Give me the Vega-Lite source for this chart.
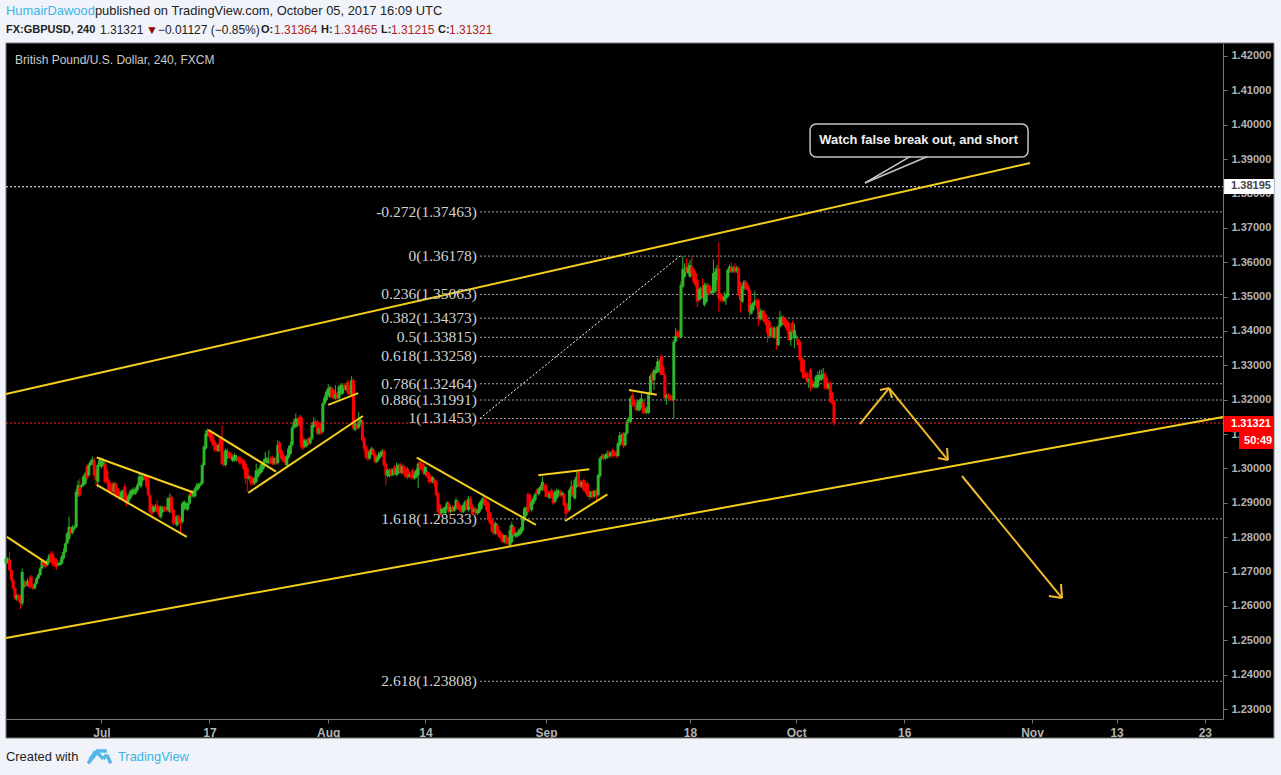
{"$schema":"https://vega.github.io/schema/vega-lite/v6.json","width":1217,"height":676,"autosize":{"type":"none"},"padding":{"left":6,"top":43,"right":58,"bottom":56},"background":"#000000","config":{"view":{"stroke":null}},
"datasets":{"candles":[
{"x":0,"o":1.2725,"h":1.2743,"l":1.2722,"c":1.2738},{"x":1,"o":1.2725,"h":1.2742,"l":1.2722,"c":1.2737},{"x":2,"o":1.2735,"h":1.2757,"l":1.2700,"c":1.2704},{"x":3,"o":1.2704,"h":1.2708,"l":1.2670,"c":1.2675},{"x":4,"o":1.2675,"h":1.2680,"l":1.2646,"c":1.2651},{"x":5,"o":1.2651,"h":1.2655,"l":1.2618,"c":1.2622},{"x":6,"o":1.2619,"h":1.2636,"l":1.2615,"c":1.2631},{"x":7,"o":1.2631,"h":1.2635,"l":1.2612,"c":1.2617},{"x":8,"o":1.2626,"h":1.2632,"l":1.2590,"c":1.2607},{"x":9,"o":1.2607,"h":1.2709,"l":1.2600,"c":1.2699},
{"x":10,"o":1.2656,"h":1.2675,"l":1.2650,"c":1.2670},{"x":11,"o":1.2670,"h":1.2674,"l":1.2655,"c":1.2660},{"x":12,"o":1.2660,"h":1.2680,"l":1.2656,"c":1.2673},{"x":13,"o":1.2673,"h":1.2686,"l":1.2650,"c":1.2655},{"x":14,"o":1.2685,"h":1.2690,"l":1.2650,"c":1.2655},{"x":15,"o":1.2655,"h":1.2660,"l":1.2646,"c":1.2651},{"x":16,"o":1.2651,"h":1.2668,"l":1.2648,"c":1.2665},{"x":17,"o":1.2665,"h":1.2684,"l":1.2662,"c":1.2680},{"x":18,"o":1.2680,"h":1.2695,"l":1.2677,"c":1.2690},{"x":19,"o":1.2690,"h":1.2714,"l":1.2687,"c":1.2709},
{"x":20,"o":1.2709,"h":1.2735,"l":1.2706,"c":1.2731},{"x":21,"o":1.2731,"h":1.2735,"l":1.2714,"c":1.2719},{"x":22,"o":1.2725,"h":1.2730,"l":1.2709,"c":1.2714},{"x":23,"o":1.2719,"h":1.2738,"l":1.2716,"c":1.2733},{"x":24,"o":1.2728,"h":1.2752,"l":1.2725,"c":1.2747},{"x":25,"o":1.2752,"h":1.2760,"l":1.2723,"c":1.2728},{"x":26,"o":1.2752,"h":1.2758,"l":1.2714,"c":1.2723},{"x":27,"o":1.2738,"h":1.2743,"l":1.2713,"c":1.2719},{"x":28,"o":1.2733,"h":1.2738,"l":1.2705,"c":1.2714},{"x":29,"o":1.2719,"h":1.2729,"l":1.2715,"c":1.2723},
{"x":30,"o":1.2719,"h":1.2733,"l":1.2716,"c":1.2725},{"x":31,"o":1.2723,"h":1.2748,"l":1.2720,"c":1.2743},{"x":32,"o":1.2738,"h":1.2767,"l":1.2735,"c":1.2757},{"x":33,"o":1.2757,"h":1.2785,"l":1.2754,"c":1.2782},{"x":34,"o":1.2782,"h":1.2815,"l":1.2779,"c":1.2811},{"x":35,"o":1.2796,"h":1.2860,"l":1.2790,"c":1.2830},{"x":36,"o":1.2825,"h":1.2831,"l":1.2805,"c":1.2811},{"x":37,"o":1.2813,"h":1.2835,"l":1.2808,"c":1.2830},{"x":38,"o":1.2825,"h":1.2836,"l":1.2820,"c":1.2830},{"x":39,"o":1.2830,"h":1.2940,"l":1.2826,"c":1.2932},
{"x":40,"o":1.2922,"h":1.2965,"l":1.2918,"c":1.2951},{"x":41,"o":1.2946,"h":1.2971,"l":1.2917,"c":1.2922},{"x":42,"o":1.2946,"h":1.2956,"l":1.2942,"c":1.2951},{"x":43,"o":1.2951,"h":1.2980,"l":1.2948,"c":1.2976},{"x":44,"o":1.2956,"h":1.2990,"l":1.2952,"c":1.2985},{"x":45,"o":1.3005,"h":1.3012,"l":1.2966,"c":1.2971},{"x":46,"o":1.2980,"h":1.3015,"l":1.2976,"c":1.3010},{"x":47,"o":1.3010,"h":1.3025,"l":1.3006,"c":1.3019},{"x":48,"o":1.3014,"h":1.3034,"l":1.3010,"c":1.3026},{"x":49,"o":1.3022,"h":1.3030,"l":1.2975,"c":1.2980},
{"x":50,"o":1.2995,"h":1.3000,"l":1.2950,"c":1.2966},{"x":51,"o":1.2961,"h":1.3015,"l":1.2945,"c":1.3010},{"x":52,"o":1.3010,"h":1.3032,"l":1.3006,"c":1.3024},{"x":53,"o":1.3005,"h":1.3032,"l":1.3000,"c":1.3022},{"x":54,"o":1.3010,"h":1.3030,"l":1.3006,"c":1.3019},{"x":55,"o":1.3014,"h":1.3020,"l":1.2955,"c":1.2961},{"x":56,"o":1.2995,"h":1.3000,"l":1.2956,"c":1.2961},{"x":57,"o":1.2966,"h":1.2970,"l":1.2930,"c":1.2937},{"x":58,"o":1.2956,"h":1.2960,"l":1.2925,"c":1.2932},{"x":59,"o":1.2951,"h":1.2960,"l":1.2930,"c":1.2935},
{"x":60,"o":1.2932,"h":1.2960,"l":1.2928,"c":1.2956},{"x":61,"o":1.2956,"h":1.2961,"l":1.2915,"c":1.2922},{"x":62,"o":1.2942,"h":1.2948,"l":1.2922,"c":1.2927},{"x":63,"o":1.2932,"h":1.2937,"l":1.2908,"c":1.2913},{"x":64,"o":1.2913,"h":1.2937,"l":1.2908,"c":1.2932},{"x":65,"o":1.2913,"h":1.2940,"l":1.2908,"c":1.2935},{"x":66,"o":1.2947,"h":1.2955,"l":1.2908,"c":1.2913},{"x":67,"o":1.2922,"h":1.2928,"l":1.2890,"c":1.2898},{"x":68,"o":1.2903,"h":1.2925,"l":1.2898,"c":1.2919},{"x":69,"o":1.2913,"h":1.2938,"l":1.2909,"c":1.2932},
{"x":70,"o":1.2922,"h":1.2942,"l":1.2918,"c":1.2937},{"x":71,"o":1.2927,"h":1.2945,"l":1.2923,"c":1.2939},{"x":72,"o":1.2927,"h":1.2945,"l":1.2923,"c":1.2939},{"x":73,"o":1.2937,"h":1.2958,"l":1.2933,"c":1.2951},{"x":74,"o":1.2951,"h":1.2985,"l":1.2948,"c":1.2976},{"x":75,"o":1.2948,"h":1.2985,"l":1.2943,"c":1.2978},{"x":76,"o":1.2966,"h":1.2982,"l":1.2962,"c":1.2976},{"x":77,"o":1.2978,"h":1.2982,"l":1.2967,"c":1.2971},{"x":78,"o":1.2976,"h":1.2980,"l":1.2944,"c":1.2948},{"x":79,"o":1.2971,"h":1.2976,"l":1.2918,"c":1.2922},
{"x":80,"o":1.2922,"h":1.2927,"l":1.2868,"c":1.2874},{"x":81,"o":1.2893,"h":1.2898,"l":1.2858,"c":1.2869},{"x":82,"o":1.2874,"h":1.2893,"l":1.2870,"c":1.2888},{"x":83,"o":1.2879,"h":1.2896,"l":1.2875,"c":1.2890},{"x":84,"o":1.2893,"h":1.2908,"l":1.2870,"c":1.2874},{"x":85,"o":1.2888,"h":1.2893,"l":1.2858,"c":1.2864},{"x":86,"o":1.2859,"h":1.2893,"l":1.2853,"c":1.2888},{"x":87,"o":1.2874,"h":1.2890,"l":1.2870,"c":1.2883},{"x":88,"o":1.2888,"h":1.2892,"l":1.2874,"c":1.2879},{"x":89,"o":1.2886,"h":1.2890,"l":1.2874,"c":1.2879},
{"x":90,"o":1.2879,"h":1.2917,"l":1.2875,"c":1.2913},{"x":91,"o":1.2874,"h":1.2927,"l":1.2870,"c":1.2913},{"x":92,"o":1.2917,"h":1.2922,"l":1.2870,"c":1.2874},{"x":93,"o":1.2879,"h":1.2884,"l":1.2835,"c":1.2840},{"x":94,"o":1.2859,"h":1.2863,"l":1.2835,"c":1.2840},{"x":95,"o":1.2835,"h":1.2865,"l":1.2830,"c":1.2861},{"x":96,"o":1.2861,"h":1.2866,"l":1.2835,"c":1.2845},{"x":97,"o":1.2850,"h":1.2855,"l":1.2811,"c":1.2840},{"x":98,"o":1.2845,"h":1.2903,"l":1.2840,"c":1.2898},{"x":99,"o":1.2883,"h":1.2908,"l":1.2878,"c":1.2903},
{"x":100,"o":1.2883,"h":1.2902,"l":1.2878,"c":1.2898},{"x":101,"o":1.2881,"h":1.2902,"l":1.2876,"c":1.2898},{"x":102,"o":1.2898,"h":1.2927,"l":1.2894,"c":1.2922},{"x":103,"o":1.2932,"h":1.2938,"l":1.2915,"c":1.2919},{"x":104,"o":1.2919,"h":1.2937,"l":1.2915,"c":1.2932},{"x":105,"o":1.2919,"h":1.2946,"l":1.2915,"c":1.2942},{"x":106,"o":1.2937,"h":1.2958,"l":1.2933,"c":1.2951},{"x":107,"o":1.2942,"h":1.2958,"l":1.2938,"c":1.2954},{"x":108,"o":1.2951,"h":1.2962,"l":1.2948,"c":1.2956},{"x":109,"o":1.2956,"h":1.3015,"l":1.2952,"c":1.3010},
{"x":110,"o":1.3010,"h":1.3068,"l":1.3006,"c":1.3063},{"x":111,"o":1.3058,"h":1.3112,"l":1.3054,"c":1.3102},{"x":112,"o":1.3097,"h":1.3116,"l":1.3093,"c":1.3111},{"x":113,"o":1.3109,"h":1.3114,"l":1.3086,"c":1.3092},{"x":114,"o":1.3102,"h":1.3106,"l":1.3075,"c":1.3078},{"x":115,"o":1.3092,"h":1.3097,"l":1.3065,"c":1.3068},{"x":116,"o":1.3078,"h":1.3082,"l":1.3048,"c":1.3053},{"x":117,"o":1.3068,"h":1.3072,"l":1.3048,"c":1.3053},{"x":118,"o":1.3051,"h":1.3072,"l":1.3048,"c":1.3068},{"x":119,"o":1.3087,"h":1.3092,"l":1.3049,"c":1.3053},
{"x":120,"o":1.3082,"h":1.3126,"l":1.3010,"c":1.3014},{"x":121,"o":1.3043,"h":1.3048,"l":1.3005,"c":1.3010},{"x":122,"o":1.3010,"h":1.3058,"l":1.3005,"c":1.3053},{"x":123,"o":1.3032,"h":1.3056,"l":1.3028,"c":1.3048},{"x":124,"o":1.3048,"h":1.3052,"l":1.3028,"c":1.3032},{"x":125,"o":1.3043,"h":1.3048,"l":1.3024,"c":1.3029},{"x":126,"o":1.3022,"h":1.3038,"l":1.3018,"c":1.3034},{"x":127,"o":1.3024,"h":1.3045,"l":1.3020,"c":1.3039},{"x":128,"o":1.3024,"h":1.3040,"l":1.3020,"c":1.3034},{"x":129,"o":1.3032,"h":1.3036,"l":1.3018,"c":1.3022},
{"x":130,"o":1.3032,"h":1.3036,"l":1.3010,"c":1.3014},{"x":131,"o":1.3026,"h":1.3030,"l":1.3015,"c":1.3019},{"x":132,"o":1.3024,"h":1.3028,"l":1.2995,"c":1.3000},{"x":133,"o":1.3014,"h":1.3018,"l":1.2956,"c":1.2971},{"x":134,"o":1.3000,"h":1.3005,"l":1.2932,"c":1.2971},{"x":135,"o":1.2971,"h":1.2982,"l":1.2966,"c":1.2976},{"x":136,"o":1.2976,"h":1.2980,"l":1.2950,"c":1.2956},{"x":137,"o":1.2971,"h":1.2975,"l":1.2950,"c":1.2956},{"x":138,"o":1.2956,"h":1.2976,"l":1.2952,"c":1.2971},{"x":139,"o":1.2961,"h":1.3014,"l":1.2957,"c":1.2995},
{"x":140,"o":1.2976,"h":1.3002,"l":1.2972,"c":1.2995},{"x":141,"o":1.2985,"h":1.3008,"l":1.2981,"c":1.3000},{"x":142,"o":1.2990,"h":1.3020,"l":1.2986,"c":1.3014},{"x":143,"o":1.3000,"h":1.3026,"l":1.2996,"c":1.3019},{"x":144,"o":1.3019,"h":1.3048,"l":1.3015,"c":1.3029},{"x":145,"o":1.3016,"h":1.3034,"l":1.3012,"c":1.3029},{"x":146,"o":1.3016,"h":1.3053,"l":1.3012,"c":1.3024},{"x":147,"o":1.3029,"h":1.3034,"l":1.3012,"c":1.3016},{"x":148,"o":1.3032,"h":1.3037,"l":1.3010,"c":1.3014},{"x":149,"o":1.3014,"h":1.3033,"l":1.3010,"c":1.3029},
{"x":150,"o":1.3029,"h":1.3034,"l":1.3010,"c":1.3014},{"x":151,"o":1.3016,"h":1.3082,"l":1.3012,"c":1.3068},{"x":152,"o":1.3075,"h":1.3080,"l":1.3048,"c":1.3043},{"x":153,"o":1.3053,"h":1.3058,"l":1.3024,"c":1.3029},{"x":154,"o":1.3039,"h":1.3044,"l":1.3016,"c":1.3022},{"x":155,"o":1.3032,"h":1.3036,"l":1.3010,"c":1.3016},{"x":156,"o":1.3010,"h":1.3040,"l":1.3005,"c":1.3036},{"x":157,"o":1.3032,"h":1.3066,"l":1.3028,"c":1.3058},{"x":158,"o":1.3043,"h":1.3078,"l":1.3039,"c":1.3068},{"x":159,"o":1.3068,"h":1.3125,"l":1.3064,"c":1.3119},
{"x":160,"o":1.3119,"h":1.3145,"l":1.3115,"c":1.3136},{"x":161,"o":1.3121,"h":1.3160,"l":1.3117,"c":1.3145},{"x":162,"o":1.3126,"h":1.3146,"l":1.3122,"c":1.3140},{"x":163,"o":1.3150,"h":1.3155,"l":1.3121,"c":1.3126},{"x":164,"o":1.3150,"h":1.3155,"l":1.3058,"c":1.3063},{"x":165,"o":1.3087,"h":1.3092,"l":1.3054,"c":1.3058},{"x":166,"o":1.3063,"h":1.3087,"l":1.3059,"c":1.3082},{"x":167,"o":1.3065,"h":1.3085,"l":1.3061,"c":1.3080},{"x":168,"o":1.3087,"h":1.3092,"l":1.3068,"c":1.3073},{"x":169,"o":1.3073,"h":1.3092,"l":1.3069,"c":1.3087},
{"x":170,"o":1.3087,"h":1.3132,"l":1.3083,"c":1.3126},{"x":171,"o":1.3121,"h":1.3150,"l":1.3117,"c":1.3136},{"x":172,"o":1.3136,"h":1.3141,"l":1.3122,"c":1.3126},{"x":173,"o":1.3136,"h":1.3141,"l":1.3097,"c":1.3102},{"x":174,"o":1.3102,"h":1.3121,"l":1.3098,"c":1.3116},{"x":175,"o":1.3131,"h":1.3136,"l":1.3098,"c":1.3102},{"x":176,"o":1.3107,"h":1.3194,"l":1.3103,"c":1.3189},{"x":177,"o":1.3189,"h":1.3212,"l":1.3185,"c":1.3206},{"x":178,"o":1.3199,"h":1.3228,"l":1.3195,"c":1.3223},{"x":179,"o":1.3213,"h":1.3245,"l":1.3209,"c":1.3233},
{"x":180,"o":1.3208,"h":1.3240,"l":1.3204,"c":1.3236},{"x":181,"o":1.3233,"h":1.3238,"l":1.3204,"c":1.3208},{"x":182,"o":1.3228,"h":1.3233,"l":1.3200,"c":1.3204},{"x":183,"o":1.3204,"h":1.3242,"l":1.3200,"c":1.3216},{"x":184,"o":1.3218,"h":1.3223,"l":1.3200,"c":1.3204},{"x":185,"o":1.3204,"h":1.3243,"l":1.3200,"c":1.3238},{"x":186,"o":1.3218,"h":1.3248,"l":1.3214,"c":1.3242},{"x":187,"o":1.3218,"h":1.3248,"l":1.3214,"c":1.3242},{"x":188,"o":1.3242,"h":1.3248,"l":1.3228,"c":1.3233},{"x":189,"o":1.3228,"h":1.3250,"l":1.3224,"c":1.3242},
{"x":190,"o":1.3252,"h":1.3258,"l":1.3214,"c":1.3218},{"x":191,"o":1.3238,"h":1.3243,"l":1.3212,"c":1.3216},{"x":192,"o":1.3216,"h":1.3268,"l":1.3212,"c":1.3257},{"x":193,"o":1.3257,"h":1.3262,"l":1.3110,"c":1.3116},{"x":194,"o":1.3113,"h":1.3135,"l":1.3108,"c":1.3131},{"x":195,"o":1.3126,"h":1.3131,"l":1.3112,"c":1.3116},{"x":196,"o":1.3119,"h":1.3165,"l":1.3114,"c":1.3136},{"x":197,"o":1.3131,"h":1.3148,"l":1.3127,"c":1.3142},{"x":198,"o":1.3136,"h":1.3141,"l":1.3078,"c":1.3082},{"x":199,"o":1.3087,"h":1.3092,"l":1.3049,"c":1.3058},
{"x":200,"o":1.3063,"h":1.3068,"l":1.3026,"c":1.3032},{"x":201,"o":1.3053,"h":1.3058,"l":1.3022,"c":1.3029},{"x":202,"o":1.3029,"h":1.3053,"l":1.3025,"c":1.3048},{"x":203,"o":1.3043,"h":1.3063,"l":1.3039,"c":1.3058},{"x":204,"o":1.3055,"h":1.3060,"l":1.3034,"c":1.3039},{"x":205,"o":1.3043,"h":1.3048,"l":1.3014,"c":1.3019},{"x":206,"o":1.3019,"h":1.3036,"l":1.3015,"c":1.3032},{"x":207,"o":1.3026,"h":1.3048,"l":1.3022,"c":1.3039},{"x":208,"o":1.3034,"h":1.3050,"l":1.3030,"c":1.3045},{"x":209,"o":1.3039,"h":1.3056,"l":1.3035,"c":1.3051},
{"x":210,"o":1.3051,"h":1.3056,"l":1.3004,"c":1.3010},{"x":211,"o":1.3014,"h":1.3020,"l":1.2951,"c":1.2981},{"x":212,"o":1.2978,"h":1.3000,"l":1.2974,"c":1.2995},{"x":213,"o":1.2978,"h":1.3000,"l":1.2974,"c":1.2995},{"x":214,"o":1.2997,"h":1.3002,"l":1.2976,"c":1.2981},{"x":215,"o":1.2981,"h":1.3002,"l":1.2977,"c":1.2997},{"x":216,"o":1.3005,"h":1.3010,"l":1.2981,"c":1.2985},{"x":217,"o":1.2981,"h":1.3018,"l":1.2977,"c":1.3000},{"x":218,"o":1.2987,"h":1.3014,"l":1.2983,"c":1.3010},{"x":219,"o":1.3012,"h":1.3017,"l":1.2985,"c":1.2990},
{"x":220,"o":1.2987,"h":1.3012,"l":1.2983,"c":1.3007},{"x":221,"o":1.3007,"h":1.3012,"l":1.2980,"c":1.2985},{"x":222,"o":1.2995,"h":1.3000,"l":1.2971,"c":1.2976},{"x":223,"o":1.3000,"h":1.3005,"l":1.2968,"c":1.2974},{"x":224,"o":1.2976,"h":1.2990,"l":1.2972,"c":1.2983},{"x":225,"o":1.2985,"h":1.2990,"l":1.2968,"c":1.2974},{"x":226,"o":1.2995,"h":1.3000,"l":1.2968,"c":1.2974},{"x":227,"o":1.2971,"h":1.2990,"l":1.2967,"c":1.2983},{"x":228,"o":1.2976,"h":1.3000,"l":1.2972,"c":1.2995},{"x":229,"o":1.2981,"h":1.3019,"l":1.2942,"c":1.3014},
{"x":230,"o":1.3019,"h":1.3030,"l":1.2995,"c":1.3000},{"x":231,"o":1.3014,"h":1.3020,"l":1.2992,"c":1.2997},{"x":232,"o":1.3010,"h":1.3015,"l":1.2980,"c":1.2985},{"x":233,"o":1.2983,"h":1.3005,"l":1.2979,"c":1.3005},{"x":234,"o":1.2990,"h":1.2995,"l":1.2971,"c":1.2976},{"x":235,"o":1.2985,"h":1.2990,"l":1.2956,"c":1.2961},{"x":236,"o":1.2976,"h":1.2980,"l":1.2956,"c":1.2961},{"x":237,"o":1.2961,"h":1.2978,"l":1.2957,"c":1.2974},{"x":238,"o":1.2968,"h":1.2972,"l":1.2947,"c":1.2956},{"x":239,"o":1.2961,"h":1.2966,"l":1.2918,"c":1.2922},
{"x":240,"o":1.2927,"h":1.2932,"l":1.2869,"c":1.2874},{"x":241,"o":1.2893,"h":1.2898,"l":1.2858,"c":1.2864},{"x":242,"o":1.2869,"h":1.2886,"l":1.2865,"c":1.2883},{"x":243,"o":1.2874,"h":1.2886,"l":1.2870,"c":1.2879},{"x":244,"o":1.2869,"h":1.2892,"l":1.2865,"c":1.2888},{"x":245,"o":1.2883,"h":1.2905,"l":1.2879,"c":1.2900},{"x":246,"o":1.2898,"h":1.2903,"l":1.2869,"c":1.2874},{"x":247,"o":1.2874,"h":1.2893,"l":1.2870,"c":1.2888},{"x":248,"o":1.2888,"h":1.2893,"l":1.2874,"c":1.2879},{"x":249,"o":1.2877,"h":1.2893,"l":1.2873,"c":1.2888},
{"x":250,"o":1.2883,"h":1.2915,"l":1.2879,"c":1.2908},{"x":251,"o":1.2903,"h":1.2908,"l":1.2879,"c":1.2883},{"x":252,"o":1.2893,"h":1.2898,"l":1.2874,"c":1.2879},{"x":253,"o":1.2888,"h":1.2893,"l":1.2869,"c":1.2874},{"x":254,"o":1.2874,"h":1.2898,"l":1.2870,"c":1.2893},{"x":255,"o":1.2879,"h":1.2908,"l":1.2875,"c":1.2903},{"x":256,"o":1.2903,"h":1.2908,"l":1.2879,"c":1.2879},{"x":257,"o":1.2879,"h":1.2920,"l":1.2875,"c":1.2913},{"x":258,"o":1.2913,"h":1.2918,"l":1.2883,"c":1.2888},{"x":259,"o":1.2893,"h":1.2898,"l":1.2864,"c":1.2869},
{"x":260,"o":1.2874,"h":1.2888,"l":1.2870,"c":1.2883},{"x":261,"o":1.2883,"h":1.2888,"l":1.2864,"c":1.2869},{"x":262,"o":1.2869,"h":1.2883,"l":1.2865,"c":1.2879},{"x":263,"o":1.2874,"h":1.2903,"l":1.2870,"c":1.2898},{"x":264,"o":1.2883,"h":1.2910,"l":1.2879,"c":1.2906},{"x":265,"o":1.2898,"h":1.2918,"l":1.2894,"c":1.2913},{"x":266,"o":1.2913,"h":1.2918,"l":1.2889,"c":1.2893},{"x":267,"o":1.2903,"h":1.2908,"l":1.2874,"c":1.2879},{"x":268,"o":1.2898,"h":1.2903,"l":1.2845,"c":1.2850},{"x":269,"o":1.2869,"h":1.2874,"l":1.2835,"c":1.2840},
{"x":270,"o":1.2850,"h":1.2855,"l":1.2811,"c":1.2816},{"x":271,"o":1.2840,"h":1.2845,"l":1.2806,"c":1.2811},{"x":272,"o":1.2811,"h":1.2845,"l":1.2807,"c":1.2840},{"x":273,"o":1.2835,"h":1.2840,"l":1.2806,"c":1.2811},{"x":274,"o":1.2820,"h":1.2825,"l":1.2797,"c":1.2801},{"x":275,"o":1.2811,"h":1.2816,"l":1.2787,"c":1.2796},{"x":276,"o":1.2806,"h":1.2811,"l":1.2782,"c":1.2786},{"x":277,"o":1.2786,"h":1.2806,"l":1.2782,"c":1.2806},{"x":278,"o":1.2801,"h":1.2806,"l":1.2778,"c":1.2782},{"x":279,"o":1.2796,"h":1.2801,"l":1.2772,"c":1.2782},
{"x":280,"o":1.2777,"h":1.2835,"l":1.2773,"c":1.2820},{"x":281,"o":1.2786,"h":1.2845,"l":1.2782,"c":1.2835},{"x":282,"o":1.2830,"h":1.2835,"l":1.2801,"c":1.2806},{"x":283,"o":1.2803,"h":1.2815,"l":1.2799,"c":1.2811},{"x":284,"o":1.2803,"h":1.2818,"l":1.2799,"c":1.2813},{"x":285,"o":1.2806,"h":1.2825,"l":1.2802,"c":1.2820},{"x":286,"o":1.2811,"h":1.2830,"l":1.2807,"c":1.2825},{"x":287,"o":1.2820,"h":1.2860,"l":1.2816,"c":1.2854},{"x":288,"o":1.2850,"h":1.2888,"l":1.2846,"c":1.2883},{"x":289,"o":1.2864,"h":1.2890,"l":1.2860,"c":1.2886},
{"x":290,"o":1.2925,"h":1.2930,"l":1.2869,"c":1.2874},{"x":291,"o":1.2922,"h":1.2927,"l":1.2883,"c":1.2888},{"x":292,"o":1.2879,"h":1.2908,"l":1.2875,"c":1.2903},{"x":293,"o":1.2898,"h":1.2918,"l":1.2894,"c":1.2913},{"x":294,"o":1.2908,"h":1.2930,"l":1.2904,"c":1.2925},{"x":295,"o":1.2937,"h":1.2942,"l":1.2922,"c":1.2927},{"x":296,"o":1.2925,"h":1.2945,"l":1.2921,"c":1.2942},{"x":297,"o":1.2937,"h":1.2952,"l":1.2933,"c":1.2947},{"x":298,"o":1.2939,"h":1.2976,"l":1.2935,"c":1.2961},{"x":299,"o":1.2951,"h":1.2956,"l":1.2932,"c":1.2937},
{"x":300,"o":1.2951,"h":1.2956,"l":1.2918,"c":1.2917},{"x":301,"o":1.2932,"h":1.2937,"l":1.2913,"c":1.2917},{"x":302,"o":1.2915,"h":1.2932,"l":1.2911,"c":1.2925},{"x":303,"o":1.2937,"h":1.2942,"l":1.2913,"c":1.2917},{"x":304,"o":1.2925,"h":1.2930,"l":1.2894,"c":1.2898},{"x":305,"o":1.2903,"h":1.2937,"l":1.2899,"c":1.2932},{"x":306,"o":1.2913,"h":1.2942,"l":1.2909,"c":1.2935},{"x":307,"o":1.2922,"h":1.2940,"l":1.2918,"c":1.2935},{"x":308,"o":1.2932,"h":1.2937,"l":1.2917,"c":1.2922},{"x":309,"o":1.2922,"h":1.2934,"l":1.2918,"c":1.2929},
{"x":310,"o":1.2925,"h":1.2930,"l":1.2889,"c":1.2893},{"x":311,"o":1.2898,"h":1.2903,"l":1.2854,"c":1.2869},{"x":312,"o":1.2893,"h":1.2898,"l":1.2869,"c":1.2874},{"x":313,"o":1.2879,"h":1.2942,"l":1.2875,"c":1.2937},{"x":314,"o":1.2922,"h":1.2965,"l":1.2918,"c":1.2947},{"x":315,"o":1.2947,"h":1.2952,"l":1.2917,"c":1.2922},{"x":316,"o":1.2913,"h":1.2971,"l":1.2909,"c":1.2966},{"x":317,"o":1.2947,"h":1.2990,"l":1.2943,"c":1.2976},{"x":318,"o":1.2990,"h":1.2990,"l":1.2947,"c":1.2951},{"x":319,"o":1.2961,"h":1.2966,"l":1.2942,"c":1.2947},
{"x":320,"o":1.2947,"h":1.2966,"l":1.2943,"c":1.2961},{"x":321,"o":1.2966,"h":1.2971,"l":1.2932,"c":1.2937},{"x":322,"o":1.2956,"h":1.2961,"l":1.2927,"c":1.2932},{"x":323,"o":1.2956,"h":1.2961,"l":1.2917,"c":1.2922},{"x":324,"o":1.2932,"h":1.2937,"l":1.2909,"c":1.2917},{"x":325,"o":1.2917,"h":1.2935,"l":1.2913,"c":1.2932},{"x":326,"o":1.2932,"h":1.2937,"l":1.2913,"c":1.2919},{"x":327,"o":1.2919,"h":1.2937,"l":1.2915,"c":1.2935},{"x":328,"o":1.2935,"h":1.2940,"l":1.2904,"c":1.2922},{"x":329,"o":1.2922,"h":1.2985,"l":1.2918,"c":1.2981},
{"x":330,"o":1.2978,"h":1.3034,"l":1.2974,"c":1.3029},{"x":331,"o":1.3029,"h":1.3042,"l":1.3025,"c":1.3036},{"x":332,"o":1.3039,"h":1.3044,"l":1.3024,"c":1.3029},{"x":333,"o":1.3029,"h":1.3044,"l":1.3025,"c":1.3039},{"x":334,"o":1.3032,"h":1.3052,"l":1.3028,"c":1.3043},{"x":335,"o":1.3043,"h":1.3053,"l":1.3030,"c":1.3036},{"x":336,"o":1.3036,"h":1.3048,"l":1.3032,"c":1.3048},{"x":337,"o":1.3053,"h":1.3058,"l":1.3032,"c":1.3036},{"x":338,"o":1.3048,"h":1.3053,"l":1.3034,"c":1.3039},{"x":339,"o":1.3045,"h":1.3050,"l":1.3030,"c":1.3036},
{"x":340,"o":1.3036,"h":1.3078,"l":1.3032,"c":1.3073},{"x":341,"o":1.3068,"h":1.3106,"l":1.3064,"c":1.3097},{"x":342,"o":1.3077,"h":1.3102,"l":1.3073,"c":1.3097},{"x":343,"o":1.3102,"h":1.3107,"l":1.3060,"c":1.3065},{"x":344,"o":1.3068,"h":1.3106,"l":1.3064,"c":1.3102},{"x":345,"o":1.3102,"h":1.3142,"l":1.3098,"c":1.3136},{"x":346,"o":1.3136,"h":1.3150,"l":1.3132,"c":1.3145},{"x":347,"o":1.3136,"h":1.3210,"l":1.3132,"c":1.3204},{"x":348,"o":1.3214,"h":1.3220,"l":1.3180,"c":1.3185},{"x":349,"o":1.3199,"h":1.3204,"l":1.3180,"c":1.3185},
{"x":350,"o":1.3185,"h":1.3190,"l":1.3166,"c":1.3170},{"x":351,"o":1.3170,"h":1.3199,"l":1.3166,"c":1.3194},{"x":352,"o":1.3170,"h":1.3203,"l":1.3166,"c":1.3199},{"x":353,"o":1.3180,"h":1.3219,"l":1.3176,"c":1.3204},{"x":354,"o":1.3194,"h":1.3199,"l":1.3158,"c":1.3162},{"x":355,"o":1.3175,"h":1.3180,"l":1.3158,"c":1.3162},{"x":356,"o":1.3162,"h":1.3180,"l":1.3158,"c":1.3175},{"x":357,"o":1.3162,"h":1.3223,"l":1.3158,"c":1.3219},{"x":358,"o":1.3219,"h":1.3274,"l":1.3215,"c":1.3269},{"x":359,"o":1.3277,"h":1.3282,"l":1.3250,"c":1.3257},
{"x":360,"o":1.3257,"h":1.3290,"l":1.3228,"c":1.3285},{"x":361,"o":1.3277,"h":1.3297,"l":1.3273,"c":1.3287},{"x":362,"o":1.3282,"h":1.3321,"l":1.3278,"c":1.3311},{"x":363,"o":1.3282,"h":1.3317,"l":1.3278,"c":1.3311},{"x":364,"o":1.3327,"h":1.3333,"l":1.3272,"c":1.3272},{"x":365,"o":1.3296,"h":1.3301,"l":1.3272,"c":1.3272},{"x":366,"o":1.3272,"h":1.3277,"l":1.3204,"c":1.3204},{"x":367,"o":1.3204,"h":1.3218,"l":1.3185,"c":1.3214},{"x":368,"o":1.3214,"h":1.3219,"l":1.3200,"c":1.3204},{"x":369,"o":1.3211,"h":1.3216,"l":1.3197,"c":1.3201},
{"x":370,"o":1.3209,"h":1.3214,"l":1.3194,"c":1.3199},{"x":371,"o":1.3199,"h":1.3375,"l":1.3146,"c":1.3369},{"x":372,"o":1.3369,"h":1.3408,"l":1.3365,"c":1.3386},{"x":373,"o":1.3398,"h":1.3403,"l":1.3380,"c":1.3384},{"x":374,"o":1.3398,"h":1.3403,"l":1.3378,"c":1.3382},{"x":375,"o":1.3382,"h":1.3545,"l":1.3378,"c":1.3534},{"x":376,"o":1.3529,"h":1.3618,"l":1.3525,"c":1.3580},{"x":377,"o":1.3558,"h":1.3597,"l":1.3554,"c":1.3582},{"x":378,"o":1.3587,"h":1.3611,"l":1.3570,"c":1.3570},{"x":379,"o":1.3568,"h":1.3598,"l":1.3564,"c":1.3585},
{"x":380,"o":1.3558,"h":1.3607,"l":1.3554,"c":1.3592},{"x":381,"o":1.3587,"h":1.3618,"l":1.3563,"c":1.3568},{"x":382,"o":1.3578,"h":1.3583,"l":1.3538,"c":1.3544},{"x":383,"o":1.3568,"h":1.3573,"l":1.3528,"c":1.3534},{"x":384,"o":1.3548,"h":1.3553,"l":1.3469,"c":1.3485},{"x":385,"o":1.3490,"h":1.3526,"l":1.3486,"c":1.3521},{"x":386,"o":1.3495,"h":1.3530,"l":1.3491,"c":1.3524},{"x":387,"o":1.3524,"h":1.3553,"l":1.3495,"c":1.3500},{"x":388,"o":1.3476,"h":1.3540,"l":1.3471,"c":1.3534},{"x":389,"o":1.3485,"h":1.3540,"l":1.3481,"c":1.3534},
{"x":390,"o":1.3534,"h":1.3539,"l":1.3505,"c":1.3510},{"x":391,"o":1.3529,"h":1.3534,"l":1.3505,"c":1.3510},{"x":392,"o":1.3510,"h":1.3520,"l":1.3506,"c":1.3515},{"x":393,"o":1.3512,"h":1.3608,"l":1.3508,"c":1.3568},{"x":394,"o":1.3515,"h":1.3583,"l":1.3511,"c":1.3573},{"x":395,"o":1.3548,"h":1.3593,"l":1.3544,"c":1.3582},{"x":396,"o":1.3582,"h":1.3658,"l":1.3456,"c":1.3495},{"x":397,"o":1.3505,"h":1.3510,"l":1.3485,"c":1.3490},{"x":398,"o":1.3500,"h":1.3505,"l":1.3483,"c":1.3488},{"x":399,"o":1.3488,"h":1.3515,"l":1.3484,"c":1.3500},
{"x":400,"o":1.3495,"h":1.3510,"l":1.3476,"c":1.3505},{"x":401,"o":1.3500,"h":1.3582,"l":1.3496,"c":1.3578},{"x":402,"o":1.3573,"h":1.3593,"l":1.3569,"c":1.3587},{"x":403,"o":1.3585,"h":1.3600,"l":1.3568,"c":1.3573},{"x":404,"o":1.3573,"h":1.3590,"l":1.3569,"c":1.3585},{"x":405,"o":1.3585,"h":1.3597,"l":1.3568,"c":1.3573},{"x":406,"o":1.3573,"h":1.3590,"l":1.3569,"c":1.3584},{"x":407,"o":1.3582,"h":1.3587,"l":1.3500,"c":1.3505},{"x":408,"o":1.3539,"h":1.3544,"l":1.3453,"c":1.3490},{"x":409,"o":1.3485,"h":1.3534,"l":1.3481,"c":1.3529},
{"x":410,"o":1.3524,"h":1.3548,"l":1.3520,"c":1.3543},{"x":411,"o":1.3543,"h":1.3548,"l":1.3519,"c":1.3524},{"x":412,"o":1.3534,"h":1.3539,"l":1.3515,"c":1.3519},{"x":413,"o":1.3521,"h":1.3526,"l":1.3434,"c":1.3456},{"x":414,"o":1.3451,"h":1.3480,"l":1.3447,"c":1.3476},{"x":415,"o":1.3461,"h":1.3485,"l":1.3457,"c":1.3481},{"x":416,"o":1.3476,"h":1.3517,"l":1.3472,"c":1.3488},{"x":417,"o":1.3490,"h":1.3495,"l":1.3466,"c":1.3476},{"x":418,"o":1.3488,"h":1.3493,"l":1.3415,"c":1.3437},{"x":419,"o":1.3434,"h":1.3466,"l":1.3430,"c":1.3456},
{"x":420,"o":1.3437,"h":1.3461,"l":1.3433,"c":1.3459},{"x":421,"o":1.3458,"h":1.3463,"l":1.3425,"c":1.3430},{"x":422,"o":1.3447,"h":1.3452,"l":1.3417,"c":1.3422},{"x":423,"o":1.3432,"h":1.3437,"l":1.3366,"c":1.3393},{"x":424,"o":1.3427,"h":1.3432,"l":1.3384,"c":1.3384},{"x":425,"o":1.3384,"h":1.3413,"l":1.3380,"c":1.3408},{"x":426,"o":1.3408,"h":1.3413,"l":1.3379,"c":1.3384},{"x":427,"o":1.3382,"h":1.3413,"l":1.3378,"c":1.3408},{"x":428,"o":1.3408,"h":1.3413,"l":1.3346,"c":1.3379},{"x":429,"o":1.3359,"h":1.3418,"l":1.3355,"c":1.3413},
{"x":430,"o":1.3413,"h":1.3458,"l":1.3409,"c":1.3440},{"x":431,"o":1.3418,"h":1.3445,"l":1.3414,"c":1.3440},{"x":432,"o":1.3440,"h":1.3445,"l":1.3417,"c":1.3422},{"x":433,"o":1.3434,"h":1.3439,"l":1.3408,"c":1.3413},{"x":434,"o":1.3427,"h":1.3432,"l":1.3393,"c":1.3403},{"x":435,"o":1.3422,"h":1.3427,"l":1.3369,"c":1.3374},{"x":436,"o":1.3374,"h":1.3403,"l":1.3357,"c":1.3398},{"x":437,"o":1.3425,"h":1.3430,"l":1.3393,"c":1.3398},{"x":438,"o":1.3379,"h":1.3420,"l":1.3350,"c":1.3403},{"x":439,"o":1.3379,"h":1.3389,"l":1.3375,"c":1.3384},
{"x":440,"o":1.3376,"h":1.3381,"l":1.3355,"c":1.3359},{"x":441,"o":1.3369,"h":1.3374,"l":1.3312,"c":1.3317},{"x":442,"o":1.3320,"h":1.3325,"l":1.3277,"c":1.3282},{"x":443,"o":1.3316,"h":1.3321,"l":1.3262,"c":1.3262},{"x":444,"o":1.3277,"h":1.3282,"l":1.3259,"c":1.3265},{"x":445,"o":1.3277,"h":1.3282,"l":1.3248,"c":1.3253},{"x":446,"o":1.3253,"h":1.3262,"l":1.3233,"c":1.3260},{"x":447,"o":1.3287,"h":1.3292,"l":1.3224,"c":1.3238},{"x":448,"o":1.3253,"h":1.3258,"l":1.3233,"c":1.3238},{"x":449,"o":1.3238,"h":1.3252,"l":1.3234,"c":1.3246},
{"x":450,"o":1.3236,"h":1.3272,"l":1.3232,"c":1.3267},{"x":451,"o":1.3238,"h":1.3282,"l":1.3234,"c":1.3272},{"x":452,"o":1.3257,"h":1.3287,"l":1.3253,"c":1.3272},{"x":453,"o":1.3259,"h":1.3287,"l":1.3255,"c":1.3272},{"x":454,"o":1.3262,"h":1.3292,"l":1.3258,"c":1.3275},{"x":455,"o":1.3275,"h":1.3280,"l":1.3229,"c":1.3233},{"x":456,"o":1.3262,"h":1.3267,"l":1.3229,"c":1.3233},{"x":457,"o":1.3233,"h":1.3250,"l":1.3229,"c":1.3246},{"x":458,"o":1.3248,"h":1.3253,"l":1.3190,"c":1.3194},{"x":459,"o":1.3219,"h":1.3224,"l":1.3185,"c":1.3190},
{"x":460,"o":1.3194,"h":1.3199,"l":1.3125,"c":1.3132}
],
"trend":[{"x":0,"x2":568.9,"y":1.32166,"y2":1.38887},{"x":0,"x2":676.1,"y":1.25067,"y2":1.31497},{"x":0.5,"x2":22.8,"y":1.2801,"y2":1.2724},{"x":50.4,"x2":104.1,"y":1.3032,"y2":1.2930},{"x":50.4,"x2":100.4,"y":1.2952,"y2":1.2801},{"x":112.4,"x2":150,"y":1.3112,"y2":1.2991},{"x":134.6,"x2":198.3,"y":1.2929,"y2":1.31526},{"x":179,"x2":195.7,"y":1.3185,"y2":1.3219},{"x":228.2,"x2":294.4,"y":1.30312,"y2":1.28355},{"x":295.7,"x2":324.1,"y":1.2980,"y2":1.29975},{"x":310.6,"x2":334.1,"y":1.28471,"y2":1.29248},{"x":346.1,"x2":361.5,"y":1.32282,"y2":1.32146}],
"arrows":[{"x":474.4,"x2":490.6,"y":1.31293,"y2":1.3234},{"x":485.6,"x2":490.6,"y":1.32282,"y2":1.3234},{"x":490.6,"x2":492.2,"y":1.3234,"y2":1.32049},{"x":490.6,"x2":523.3,"y":1.3234,"y2":1.30245},{"x":517.8,"x2":523.3,"y":1.30303,"y2":1.30245},{"x":522.8,"x2":523.3,"y":1.30594,"y2":1.30245},{"x":531.1,"x2":586.7,"y":1.2978,"y2":1.2623},{"x":579.4,"x2":586.7,"y":1.26288,"y2":1.2623},{"x":586.1,"x2":586.7,"y":1.26637,"y2":1.2623}],
"fib":[{"x":263.3,"x2":676.1,"y":1.37463,"label":"-0.272(1.37463)"},{"x":263.3,"x2":676.1,"y":1.36178,"label":"0(1.36178)"},{"x":263.3,"x2":676.1,"y":1.35063,"label":"0.236(1.35063)"},{"x":263.3,"x2":676.1,"y":1.34373,"label":"0.382(1.34373)"},{"x":263.3,"x2":676.1,"y":1.33815,"label":"0.5(1.33815)"},{"x":263.3,"x2":676.1,"y":1.33258,"label":"0.618(1.33258)"},{"x":263.3,"x2":676.1,"y":1.32464,"label":"0.786(1.32464)"},{"x":263.3,"x2":676.1,"y":1.31991,"label":"0.886(1.31991)"},{"x":263.3,"x2":676.1,"y":1.31453,"label":"1(1.31453)"},{"x":263.3,"x2":676.1,"y":1.28533,"label":"1.618(1.28533)"},{"x":263.3,"x2":676.1,"y":1.23808,"label":"2.618(1.23808)"}],
"panels":[{"x":-3.4,"x2":708.4,"y":1.4363,"y2":1.42378,"part":"page"},{"x":-3.4,"x2":708.4,"y":1.22157,"y2":1.2108,"part":"page"},{"x":-3.4,"x2":0,"y":1.4363,"y2":1.2108,"part":"page"},{"x":704.4,"x2":708.4,"y":1.4363,"y2":1.2108,"part":"page"}],
"tags":[{"x":676.7,"x2":704.4,"y":1.38421,"y2":1.37985,"part":"stop"},{"x":676.7,"x2":704.4,"y":1.31526,"y2":1.3106,"part":"last"},{"x":685,"x2":704.4,"y":1.3106,"y2":1.30566,"part":"last"}],
"chromeLarge":[{"x":0,"y":1.43309,"txt":"HumairDawood","role":"link"},{"x":49.4,"y":1.43309,"txt":"published on TradingView.com, October 05, 2017 16:09 UTC","role":"ink"},{"x":0,"y":1.21604,"txt":"Created with","role":"ink"},{"x":62.2,"y":1.21604,"txt":"TradingView","role":"link"}],
"chrome":[{"x":52.2,"y":1.42756,"txt":"1.31321","role":"ink"},{"x":77.8,"y":1.42756,"txt":"▼","role":"down"},{"x":84.4,"y":1.42756,"txt":"−0.01127 (−0.85%)","role":"ink"},{"x":148.9,"y":1.42756,"txt":"1.31364","role":"value"},{"x":182.2,"y":1.42756,"txt":"1.31465","role":"value"},{"x":213.9,"y":1.42756,"txt":"1.31215","role":"value"},{"x":246.1,"y":1.42756,"txt":"1.31321","role":"value"},{"x":5,"y":1.41884,"txt":"British Pound/U.S. Dollar, 240, FXCM","role":"pale"}],
"chromeBold":[{"x":0,"y":1.42756,"txt":"FX:GBPUSD, 240"},{"x":141.7,"y":1.42756,"txt":"O:"},{"x":175,"y":1.42756,"txt":"H:"},{"x":208.3,"y":1.42756,"txt":"L:"},{"x":240,"y":1.42756,"txt":"C:"}],
"tagText":[{"x":680.6,"y":1.38203,"txt":"1.38195","role":"onWhite"},{"x":680.6,"y":1.31293,"txt":"1.31321","role":"onRed"},{"x":687.8,"y":1.30798,"txt":"50:49","role":"onRed"}],
"tail":[{"x":502.2,"x2":477.2,"y":1.3907,"y2":1.38305},{"x":477.2,"x2":511.7,"y":1.38305,"y2":1.3907}],
"logo":[{"x":45.6,"x2":50.6,"y":1.2142,"y2":1.2174},{"x":50.6,"x2":54,"y":1.2174,"y2":1.2155},{"x":54,"x2":56,"y":1.2155,"y2":1.2167},{"x":56,"x2":58.2,"y":1.2167,"y2":1.2142},{"x":46.5,"x2":50,"y":1.2152,"y2":1.2178},{"x":50,"x2":56,"y":1.2178,"y2":1.2178}]
},
"encoding":{"x":{"field":"x","type":"quantitative","scale":{"domain":[0,676.1],"nice":false,"zero":false,"padding":0},"axis":{"title":null,"grid":false,"values":[53,113,179,233,300,380,439,499,570,617,666],"labelExpr":"{'53':'Jul','113':'17','179':'Aug','233':'14','300':'Sep','380':'18','439':'Oct','499':'16','570':'Nov','617':'13','666':'23'}[datum.value]","labelColor":"#b4b4b4","labelFont":"Liberation Sans","labelFontWeight":"bold","labelFontSize":12,"labelPadding":4,"domainColor":"#787878","tickColor":"#787878","tickSize":4}},
"y":{"field":"y","type":"quantitative","scale":{"domain":[1.2271,1.42378],"nice":false,"zero":false},"axis":{"title":null,"orient":"right","grid":false,"values":[1.23,1.24,1.25,1.26,1.27,1.28,1.29,1.3,1.31,1.32,1.33,1.34,1.35,1.36,1.37,1.38,1.39,1.4,1.41,1.42],"format":".5f","labelColor":"#b4b4b4","labelFont":"Liberation Sans","labelFontWeight":"bold","labelFontSize":11,"labelPadding":4,"domainColor":"#787878","tickColor":"#787878","tickSize":4}}},
"layer":[
{"data":{"name":"panels"},"mark":{"type":"rect","clip":false},"encoding":{"x2":{"field":"x2"},"y2":{"field":"y2"},"color":{"field":"part","type":"nominal","scale":{"domain":["page"],"range":["#f0f3fa"]},"legend":null}}},
{"data":{"values":[{"x":0,"x2":704.4,"y":1.42378,"y2":1.22157}]},"mark":{"type":"rect","fill":null,"stroke":"#787878","strokeWidth":1},"encoding":{"x2":{"field":"x2"},"y2":{"field":"y2"}}},
{"data":{"name":"fib"},"mark":{"type":"rule","color":"#a8a8a8","strokeWidth":1,"strokeDash":[2,2]},"encoding":{"x2":{"field":"x2"}}},
{"data":{"values":[{"x":0,"x2":676.1,"y":1.38195}]},"mark":{"type":"rule","color":"#ffffff","strokeWidth":1,"strokeDash":[2,2]},"encoding":{"x2":{"field":"x2"}}},
{"data":{"values":[{"x":263.3,"x2":374.4,"y":1.31453,"y2":1.36178}]},"mark":{"type":"rule","color":"#ffffff","strokeWidth":1,"strokeDash":[2,2]},"encoding":{"x2":{"field":"x2"},"y2":{"field":"y2"}}},
{"data":{"name":"candles"},"mark":{"type":"rule","strokeWidth":1},"encoding":{"y":{"field":"l","type":"quantitative","scale":{"domain":[1.2271,1.42378],"nice":false,"zero":false}},"y2":{"field":"h"},"color":{"condition":{"test":"datum.c >= datum.o","value":"#2fb52a"},"value":"#ff0000"}}},
{"data":{"name":"candles"},"mark":{"type":"bar","size":3},"encoding":{"y":{"field":"o","type":"quantitative","scale":{"domain":[1.2271,1.42378],"nice":false,"zero":false}},"y2":{"field":"c"},"color":{"condition":{"test":"datum.c >= datum.o","value":"#2fb52a"},"value":"#ff0000"}}},
{"data":{"values":[{"x":0,"x2":676.1,"y":1.31321}]},"mark":{"type":"rule","color":"#ff2020","strokeWidth":1,"strokeDash":[2,2]},"encoding":{"x2":{"field":"x2"}}},
{"data":{"name":"trend"},"mark":{"type":"rule","color":"#f5cf1d","strokeWidth":2},"encoding":{"x2":{"field":"x2"},"y2":{"field":"y2"}}},
{"data":{"name":"arrows"},"mark":{"type":"rule","color":"#eeb92a","strokeWidth":2},"encoding":{"x2":{"field":"x2"},"y2":{"field":"y2"}}},
{"data":{"name":"fib"},"mark":{"type":"text","align":"right","baseline":"middle","dx":-3,"font":"Liberation Serif","fontSize":15.5,"color":"#d2d2d2"},"encoding":{"text":{"field":"label"}}},
{"data":{"values":[{"x":446.7,"x2":567.8,"y":1.40022,"y2":1.39061}]},"mark":{"type":"rect","fill":"#000000","stroke":"#c4c4c4","strokeWidth":1.5,"cornerRadius":6},"encoding":{"x2":{"field":"x2"},"y2":{"field":"y2"}}},
{"data":{"name":"tail"},"mark":{"type":"rule","color":"#c4c4c4","strokeWidth":1.5},"encoding":{"x2":{"field":"x2"},"y2":{"field":"y2"}}},
{"data":{"values":[{"x":507,"y":1.39556,"txt":"Watch false break out, and short"}]},"mark":{"type":"text","align":"center","baseline":"middle","font":"Liberation Sans","fontWeight":"bold","fontSize":12.9,"color":"#f0f0f0"},"encoding":{"text":{"field":"txt"}}},
{"data":{"name":"tags"},"mark":{"type":"rect"},"encoding":{"x2":{"field":"x2"},"y2":{"field":"y2"},"color":{"field":"part","type":"nominal","scale":{"domain":["stop","last"],"range":["#ffffff","#ff0000"]},"legend":null}}},
{"data":{"name":"tagText"},"mark":{"type":"text","align":"left","baseline":"middle","font":"Liberation Sans","fontWeight":"bold","fontSize":11},"encoding":{"text":{"field":"txt"},"color":{"field":"role","type":"nominal","scale":{"domain":["onWhite","onRed"],"range":["#444444","#ffffff"]},"legend":null}}},
{"data":{"name":"chrome"},"mark":{"type":"text","align":"left","baseline":"middle","font":"Liberation Sans","fontSize":12},"encoding":{"text":{"field":"txt"},"color":{"field":"role","type":"nominal","scale":{"domain":["ink","down","value","pale"],"range":["#222222","#8b0000","#b22222","#cccccc"]},"legend":null}}},
{"data":{"name":"chromeLarge"},"mark":{"type":"text","align":"left","baseline":"middle","font":"Liberation Sans","fontSize":12.9},"encoding":{"text":{"field":"txt"},"color":{"field":"role","type":"nominal","scale":{"domain":["link","ink"],"range":["#3bb3e4","#222222"]},"legend":null}}},
{"data":{"name":"chromeBold"},"mark":{"type":"text","align":"left","baseline":"middle","font":"Liberation Sans","fontWeight":"bold","fontSize":11,"color":"#222222"},"encoding":{"text":{"field":"txt"}}},
{"data":{"name":"logo"},"mark":{"type":"rule","color":"#55b7e6","strokeWidth":3.5},"encoding":{"x2":{"field":"x2"},"y2":{"field":"y2"}}}
],
"resolve":{"scale":{"color":"independent"}}}
